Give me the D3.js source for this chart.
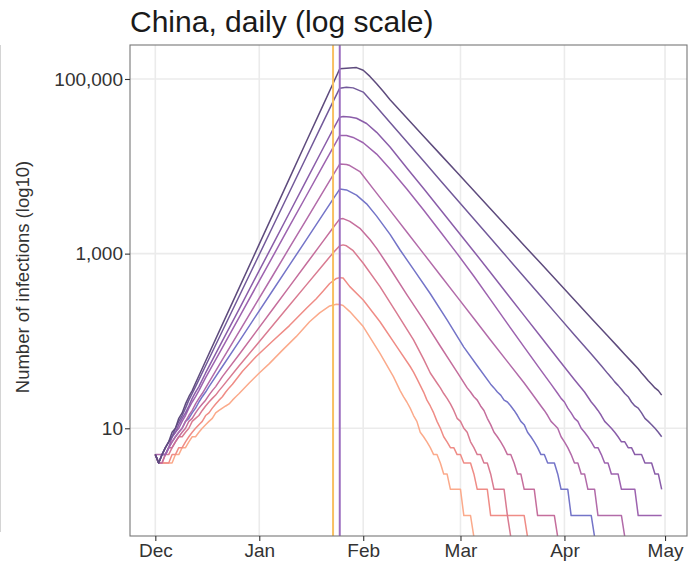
<!DOCTYPE html>
<html>
<head>
<meta charset="utf-8">
<script src="https://cdn.jsdelivr.net/npm/d3@7"></script>
<style>
  body { margin: 0; background: #fff; }
  svg { display: block; }
  text { font-family: "Liberation Sans", Arial, Helvetica, sans-serif; }
</style>
</head>
<body>
<svg id="chart" width="699" height="566"></svg>
<script>
"use strict";

// day 0 = 1 Dec 2019, last day = 30 Apr 2020
var START = Date.UTC(2019, 11, 1);
var END = Date.UTC(2020, 3, 30);
var DAY = 864e5;

var monthTicks = [Date.UTC(2019, 11, 1), Date.UTC(2020, 0, 1), Date.UTC(2020, 1, 1),
                  Date.UTC(2020, 2, 1), Date.UTC(2020, 3, 1), Date.UTC(2020, 4, 1)];
var yTicks = [10, 1000, 100000];
var markerDates = [Date.UTC(2020, 0, 23), Date.UTC(2020, 0, 25)];
var markerColors = ["#F8C062", "#9C6DC0"];

var seriesColors = ["#5E4B7D", "#72599A", "#8A5DA9", "#9D63AF", "#B26BA9",
                    "#7474C8", "#C56E9C", "#D97B91", "#EF8C86", "#FBAA8B"];

// [day, daily infections]
var infections1 = [[0,5],[1,4],[2,5],[3,6],[4,7],[5,9],[6,10],[7,13],[8,15],[9,19],[10,23],[11,27],[12,33],
  [15,59],[20,155],[25,406],[30,1060],[35,2780],[40,7280],[45,19100],[50,49900],[53,88900],[55,130600],
  [56,132000],[58,134000],[60,135000],[62,126000],[64,107000],[66,88100],[68,71800],[70,57800],[75,35800],
  [80,22100],[85,13700],[90,8470],[95,5250],[100,3240],[105,2010],[110,1240],[115,769],[120,475],[125,294],
  [130,182],[135,113],[138,85],[140,70],[142,58],[144,48],[145,43],[146,39],[147,35],[148,32],[149,29],
  [150,27],[151,24]];
var infections2 = [[0,5],[1,4],[2,5],[3,6],[4,7],[5,8],[6,10],[7,12],[8,14],[9,17],[10,21],[11,25],[12,30],
  [15,52],[20,130],[25,325],[30,813],[35,2030],[40,5080],[45,12700],[50,31800],[53,55100],[55,78500],
  [57,80500],[59,79100],[62,70800],[66,47900],[70,31700],[75,19100],[80,11500],[85,6890],[90,4140],
  [95,2490],[100,1500],[105,900],[110,541],[115,325],[120,195],[125,117],[130,71],[133,52],[135,42],
  [136,38],[137,34],[138,31],[139,28],[140,25],[141,23],[142,20],[143,18],[144,17],[145,15],[146,13],
  [147,12],[148,11],[149,10],[150,9],[151,8]];
var infections3 = [[0,5],[1,4],[2,5],[3,6],[4,7],[5,8],[6,9],[7,11],[8,13],[9,15],[10,18],[11,22],[12,26],
  [13,30],[15,43],[20,100],[25,232],[30,542],[35,1260],[40,2940],[45,6860],[50,16000],[53,26500],
  [55,36500],[56,37100],[58,36700],[60,35500],[63,30900],[66,24500],[70,16600],[75,9550],[80,5560],
  [85,3200],[90,1840],[95,1060],[100,603],[105,343],[110,195],[115,111],[120,63],[125,36],[128,26],
  [130,20],[131,18],[132,16],[133,14],[134,12],[135,11],[136,10],[137,9],[138,8],[139,7],[140,7],[141,6],
  [142,6],[143,5],[144,5],[145,5],[146,4],[147,4],[148,4],[149,3],[150,3],[151,2]];
var infections4 = [[0,5],[1,4],[2,5],[3,5],[4,6],[5,8],[6,9],[7,10],[8,12],[9,14],[10,17],[11,20],[12,23],
  [13,27],[14,32],[15,38],[20,84],[25,186],[30,415],[35,923],[40,2060],[45,4570],[50,10200],[53,16400],
  [55,22500],[57,22500],[59,21400],[62,18600],[66,13800],[70,9330],[75,5500],[80,3160],[85,1780],
  [90,1000],[95,550],[100,295],[105,158],[110,85],[115,46],[118,32],[120,25],[121,22],[122,20],[123,17],
  [124,15],[125,13],[126,12],[127,10],[128,9],[129,8],[130,7],[131,6],[132,6],[133,5],[134,4],[135,4],
  [136,3],[137,3],[138,3],[139,2],[140,2],[141,2],[142,2],[143,2],[144,1],[145,1],[146,1],[147,1],
  [148,1],[149,1],[150,1],[151,1]];
var infections5 = [[0,5],[1,5],[2,5],[3,5],[4,6],[5,7],[6,8],[7,9],[8,10],[9,12],[10,14],[11,16],[12,19],
  [13,22],[14,25],[15,29],[20,61],[25,128],[30,267],[35,558],[40,1170],[45,2440],[50,5090],[53,7930],
  [55,10600],[57,10500],[58,10200],[61,8710],[65,5520],[70,3130],[75,1770],[80,1000],[85,565],[90,320],
  [95,181],[100,102],[105,58],[110,33],[113,23],[115,18],[116,16],[117,14],[118,12],[119,11],[120,10],
  [121,8],[122,7],[123,6],[124,5],[125,4],[126,4],[127,3],[128,3],[129,2],[130,2],[131,2],[132,1],
  [133,1],[134,1],[135,1],[136,1],[137,1],[138,1],[139,1],[140,0]];
var infections6 = [[0,5],[1,4],[2,5],[3,5],[4,6],[5,7],[6,8],[7,9],[8,10],[9,12],[10,13],[11,15],[12,17],
  [13,20],[14,23],[15,26],[16,30],[20,51],[25,99],[30,194],[35,378],[40,738],[45,1440],[50,2810],
  [53,4200],[55,5480],[57,5370],[60,4680],[63,3720],[66,2690],[70,1660],[73,1100],[77,660],[82,347],
  [87,174],[92,85],[96,52],[100,32],[101,29],[102,26],[103,24],[104,21],[105,20],[106,18],[107,16],
  [108,14],[109,12],[110,11],[111,9],[112,8],[113,7],[114,6],[115,5],[116,5],[117,4],[118,4],[119,4],
  [120,3],[121,2],[122,2],[123,2],[124,1],[125,1],[126,1],[127,1],[128,1],[129,1],[130,1],[131,0]];
var infections7 = [[0,5],[1,4],[2,4],[3,5],[4,6],[5,6],[6,7],[7,8],[8,9],[9,10],[10,12],[11,13],[12,15],
  [13,17],[14,19],[15,21],[16,24],[17,27],[18,30],[20,39],[25,70],[30,127],[35,231],[40,419],[45,760],
  [50,1380],[53,1980],[55,2500],[56,2520],[58,2340],[61,1950],[64,1450],[66,1150],[70,676],[75,339],
  [80,174],[85,87],[90,44],[93,29],[94,26],[95,23],[96,21],[97,18],[98,16],[99,13],[100,11],[101,9],
  [102,8],[103,7],[104,6],[105,5],[106,5],[107,4],[108,3],[109,3],[110,2],[111,2],[112,2],[113,2],
  [114,1],[115,1],[116,1],[117,1],[118,1],[119,1],[120,0]];
var infections8 = [[0,5],[1,4],[2,4],[3,5],[4,5],[5,6],[6,7],[7,8],[8,8],[9,9],[10,10],[11,12],[12,13],
  [13,14],[14,16],[15,18],[16,20],[17,22],[18,24],[19,27],[20,30],[25,52],[30,88],[35,150],[40,256],
  [45,436],[50,743],[53,1020],[55,1230],[56,1259],[57,1230],[59,1080],[62,776],[67,419],[72,208],
  [77,103],[80,62],[82,43],[84,33],[85,29],[86,25],[87,22],[88,19],[89,16],[90,13],[91,12],[92,10],
  [93,9],[94,7],[95,6],[96,5],[97,5],[98,4],[99,4],[100,3],[101,2],[102,2],[103,2],[104,2],[105,1],
  [106,0]];
var infections9 = [[0,5],[1,4],[2,4],[3,4],[4,4],[5,5],[6,5],[7,6],[8,6],[9,7],[10,8],[11,9],[12,10],
  [13,11],[14,12],[15,14],[16,15],[17,17],[18,19],[19,21],[20,23],[21,26],[22,29],[23,32],[26,45],
  [30,66],[35,100],[40,150],[45,235],[48,305],[50,370],[52,455],[54,520],[55,531],[56,525],[58,419],
  [62,295],[67,166],[72,86],[76,51],[77,44],[78,37],[79,31],[80,26],[81,21],[82,18],[83,15],[84,12],
  [85,10],[86,8],[87,7],[88,6],[89,6],[90,5],[91,5],[92,4],[93,4],[94,4],[95,3],[96,2],[97,2],[98,2],
  [99,2],[100,1],[101,1],[102,1],[103,1],[104,1],[105,1],[106,1],[107,1],[108,1],[109,1],[110,1],
  [111,0]];
var infections10 = [[0,5],[1,4],[2,4],[3,4],[4,4],[5,4],[6,5],[7,5],[8,6],[9,6],[10,7],[11,8],[12,8],
  [13,9],[14,10],[15,11],[16,12],[17,13],[18,15],[19,16],[20,17],[21,18],[22,19],[23,21],[24,23],
  [25,25],[28,33],[31,43],[34,55],[38,79],[42,112],[46,166],[49,210],[52,252],[54,263],[55,262],
  [56,255],[58,217],[62,146],[67,72],[71,39],[73,27],[74,23],[75,20],[76,17],[77,14],[78,12],[79,9],
  [80,8],[81,7],[82,6],[83,5],[84,5],[85,4],[86,3],[87,3],[88,2],[89,2],[90,2],[91,2],[92,1],[93,1],
  [94,1],[95,0]];

var allSeries = [infections1, infections2, infections3, infections4, infections5,
                 infections6, infections7, infections8, infections9, infections10];

var width = 699, height = 566;
var margin = {top: 45, right: 12, bottom: 30, left: 130};
var panelW = width - margin.left - margin.right;
var panelH = height - margin.top - margin.bottom;

var svg = d3.select("#chart");

// x: 5% expansion either side of the data range, like ggplot
var xPad = (END - START) * 0.05;
var x = d3.scaleUtc()
  .domain([new Date(START - xPad), new Date(END + xPad)])
  .range([0, panelW]);
var y = d3.scaleLog()
  .domain([0.584, 245000])
  .range([panelH, 0]);

var dayToDate = function(d) { return new Date(START + d * DAY); };

svg.append("text")
  .attr("x", margin.left)
  .attr("y", 32)
  .attr("font-size", 30)
  .attr("fill", "#1a1a1a")
  .text("China, daily (log scale)");

// thin rule at the far left edge
svg.append("line")
  .attr("x1", 0.5).attr("x2", 0.5)
  .attr("y1", margin.top).attr("y2", margin.top + panelH - 4)
  .attr("stroke", "#d4d4d4")
  .attr("stroke-width", 1);

svg.append("text")
  .attr("transform", "translate(29," + 277 + ") rotate(-90)")
  .attr("text-anchor", "middle")
  .attr("font-size", 18.5)
  .attr("fill", "#333")
  .text("Number of infections (log10)");

var panel = svg.append("g")
  .attr("transform", "translate(" + margin.left + "," + margin.top + ")");

svg.append("defs").append("clipPath")
  .attr("id", "panel-clip")
  .append("rect")
  .attr("width", panelW)
  .attr("height", panelH);

// grid
panel.append("g")
  .selectAll("line.gx")
  .data(monthTicks)
  .enter()
  .append("line")
  .attr("x1", function(d) { return x(new Date(d)); })
  .attr("x2", function(d) { return x(new Date(d)); })
  .attr("y1", 0)
  .attr("y2", panelH)
  .attr("stroke", "#EBEBEB")
  .attr("stroke-width", 1.6);

panel.append("g")
  .selectAll("line.gy")
  .data(yTicks)
  .enter()
  .append("line")
  .attr("x1", 0)
  .attr("x2", panelW)
  .attr("y1", function(d) { return y(d); })
  .attr("y2", function(d) { return y(d); })
  .attr("stroke", "#EBEBEB")
  .attr("stroke-width", 1.6);

// series, lightest first so the dark ones sit on top
var line = d3.line()
  .x(function(d) { return x(dayToDate(d[0])); })
  .y(function(d) { return d[1] > 0 ? y(d[1]) : panelH + 1; }); // zero -> -Inf, drawn at the panel edge

var lines = panel.append("g").attr("clip-path", "url(#panel-clip)");

lines.selectAll("path")
  .data(allSeries.map(function(s, i) { return {values: s, color: seriesColors[i]}; }).reverse())
  .enter()
  .append("path")
  .attr("d", function(d) { return line(d.values); })
  .attr("fill", "none")
  .attr("stroke", function(d) { return d.color; })
  .attr("stroke-width", 1.5)
  .attr("stroke-linejoin", "round");

// lockdown markers
lines.selectAll("line.marker")
  .data(markerDates)
  .enter()
  .append("line")
  .attr("x1", function(d) { return x(new Date(d)); })
  .attr("x2", function(d) { return x(new Date(d)); })
  .attr("y1", 0)
  .attr("y2", panelH)
  .attr("stroke", function(d, i) { return markerColors[i]; })
  .attr("stroke-width", 2);

panel.append("rect")
  .attr("width", panelW)
  .attr("height", panelH)
  .attr("fill", "none")
  .attr("stroke", "#777")
  .attr("stroke-width", 1.1);

// axes
var xAxis = panel.append("g")
  .attr("transform", "translate(0," + panelH + ")")
  .call(d3.axisBottom(x)
    .tickValues(monthTicks.map(function(t) { return new Date(t); }))
    .tickFormat(d3.utcFormat("%b"))
    .tickSize(5)
    .tickPadding(3));

var yAxis = panel.append("g")
  .call(d3.axisLeft(y)
    .tickValues(yTicks)
    .tickFormat(d3.format(","))
    .tickSize(5)
    .tickPadding(2));

[xAxis, yAxis].forEach(function(axis) {
  axis.select(".domain").remove();
  axis.selectAll(".tick line").attr("stroke", "#333").attr("stroke-width", 1.1);
  axis.selectAll(".tick text")
    .attr("font-size", 19)
    .attr("fill", "#333")
    .attr("font-family", "\"Liberation Sans\", Arial, Helvetica, sans-serif");
});
</script>
</body>
</html>
